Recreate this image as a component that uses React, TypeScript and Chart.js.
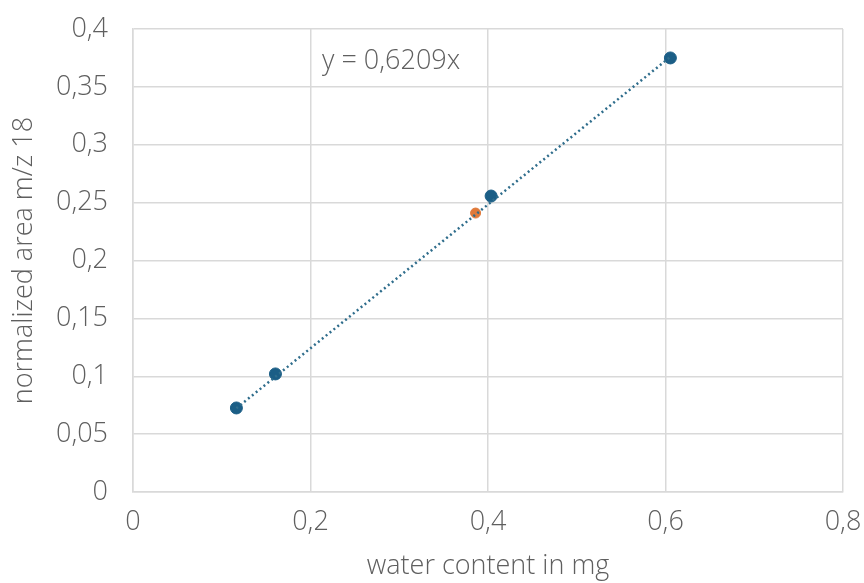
import React, { useEffect, useRef } from "react";
import { Chart, registerables } from "chart.js";

Chart.register(...registerables);

const waterMg = [0.1165, 0.1605, 0.4035, 0.6055];
const areaMz18 = [0.0726, 0.102, 0.2557, 0.375];
const sampleX = [0.386];
const sampleY = [0.241];
const slope = 0.6209;
const trendRange = [0.1165, 0.6055];
const equationLabel = "y = 0,6209x";
const labelPos = [0.213, 0.372];

const fmt = (v: number) => String(Math.round(v * 1000) / 1000).replace(".", ",");
const FONT = "'Open Sans', 'Noto Sans', sans-serif";
const GRAY = "#5f5f5f";
const FS = 27;

export default function App() {
  const ref = useRef<HTMLCanvasElement>(null);
  useEffect(() => {
    document.body.style.margin = "0";
    const ctx = ref.current!;
    const labelPlugin = {
      id: "eqLabel",
      afterDatasetsDraw(chart: any) {
        const c = chart.ctx;
        const x = chart.scales.x.getPixelForValue(labelPos[0]);
        const y = chart.scales.y.getPixelForValue(labelPos[1]);
        c.save();
        c.font = `300 ${FS}px ${FONT}`;
        c.fillStyle = GRAY;
        c.textAlign = "left";
        c.textBaseline = "middle";
        c.fillText(equationLabel, x, y);
        c.restore();
      },
    };
    const font = { family: FONT, size: FS, weight: 300 as any };
    const chart = new Chart(ctx, {
      type: "scatter",
      data: {
        datasets: [
          {
            type: "line",
            label: "trend",
            data: trendRange.map((x) => ({ x, y: slope * x })),
            borderColor: "#2f6d8c",
            borderWidth: 2.5,
            borderDash: [2, 3],
            pointRadius: 0,
            fill: false,
          } as any,
          {
            label: "standards",
            data: waterMg.map((x, i) => ({ x, y: areaMz18[i] })),
            backgroundColor: "#1b5e86",
            borderColor: "#1b5e86",
            pointRadius: 6,
          },
          {
            label: "sample",
            data: sampleX.map((x, i) => ({ x, y: sampleY[i] })),
            backgroundColor: "#e07a3a",
            borderColor: "#e07a3a",
            pointRadius: 5,
          },
        ],
      },
      options: {
        animation: false,
        responsive: false,
        maintainAspectRatio: false,
        layout: { padding: { left: 0, right: 21, top: 29, bottom: 0 } },
        plugins: { legend: { display: false }, tooltip: { enabled: false } },
        scales: {
          x: {
            type: "linear",
            min: 0,
            max: 0.8,
            afterFit: (s: any) => {
              s.height = 91;
              s.paddingLeft = 0;
              s.paddingRight = 0;
            },
            ticks: {
              stepSize: 0.2,
              color: GRAY,
              font,
              callback: (v: any) => fmt(Number(v)),
              padding: 14,
              maxRotation: 0,
            },
            grid: { color: "#d9d9d9", lineWidth: 1.5, drawTicks: false },
            border: { color: "#d9d9d9", width: 1.5 },
            title: {
              display: true,
              text: "water content in mg",
              color: GRAY,
              font,
              padding: { top: 9, bottom: 0 },
            },
          },
          y: {
            type: "linear",
            min: 0,
            max: 0.4,
            afterFit: (s: any) => {
              s.width = 133;
              s.paddingTop = 0;
              s.paddingBottom = 0;
            },
            ticks: {
              stepSize: 0.05,
              color: GRAY,
              font,
              callback: (v: any) => fmt(Number(v)),
              padding: 25,
            },
            grid: { color: "#d9d9d9", lineWidth: 1.5, drawTicks: false },
            border: { color: "#d9d9d9", width: 1.5 },
            title: {
              display: true,
              text: "normalized area m/z 18",
              color: GRAY,
              font,
              padding: { top: 8, bottom: 10 },
            },
          },
        },
      },
      plugins: [labelPlugin],
    });
    return () => chart.destroy();
  }, []);
  return (
    <div style={{ width: 864, height: 583, background: "#fff" }}>
      <canvas ref={ref} width={864} height={583} />
    </div>
  );
}
